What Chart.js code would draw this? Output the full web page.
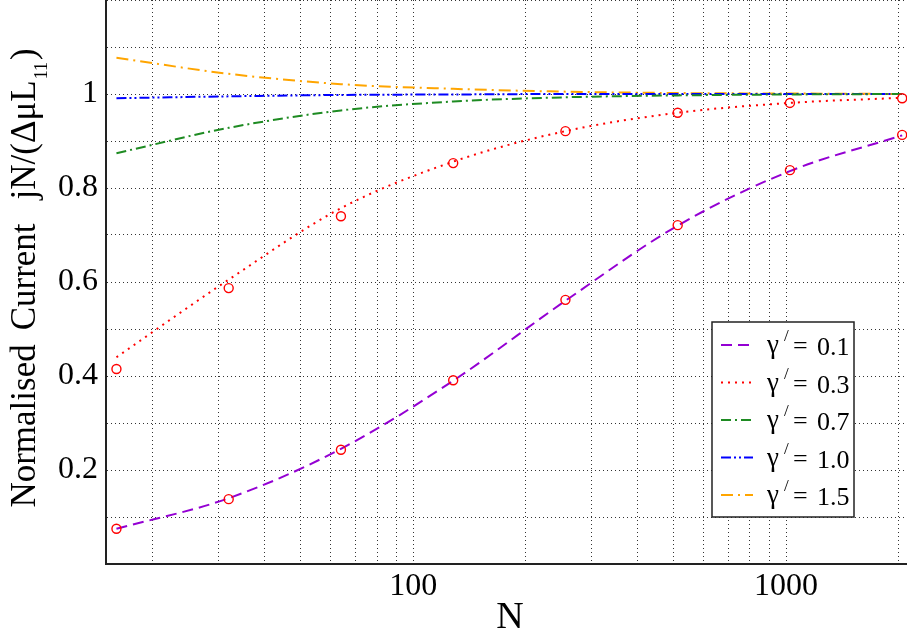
<!DOCTYPE html>
<html>
<head>
<meta charset="utf-8">
<script src="https://cdn.jsdelivr.net/npm/chart.js@4.4.0/dist/chart.umd.min.js"></script>
<style>
  html, body { margin: 0; padding: 0; background: #fff; }
  #wrap { width: 907px; height: 636px; position: relative; }
</style>
</head>
<body>
<div id="wrap"><canvas id="chart"></canvas></div>
<script>
// chain length N (log x axis)
const nValues = [16, 32, 64, 128, 256, 512, 1024, 2048];

// curves, one per gamma'
const gammaLabels = ['0.1', '0.3', '0.7', '1.0', '1.5'];
const curve01 = [0.075, 0.140, 0.245, 0.390, 0.560, 0.720, 0.836, 0.912];
const curve03 = [0.440, 0.605, 0.757, 0.856, 0.921, 0.960, 0.981, 0.992];
const curve07 = [0.874, 0.928, 0.965, 0.984, 0.993, 0.997, 0.999, 1.000];
const curve10 = [0.991, 0.995, 0.998, 0.999, 1.000, 1.000, 1.000, 1.000];
const curve15 = [1.077, 1.043, 1.021, 1.011, 1.005, 1.002, 1.001, 1.000];

// simulation points (open red circles)
const sim01 = [0.075, 0.138, 0.243, 0.391, 0.562, 0.721, 0.838, 0.913];
const sim03 = [0.415, 0.587, 0.740, 0.853, 0.921, 0.960, 0.981, 0.991];

// ticks
const xGridValues = [20, 30, 40, 50, 60, 70, 80, 90, 100, 200, 300, 400, 500, 600, 700, 800, 900, 1000, 2000];
const xTickLabels = [100, 1000];
const yTickLabels = [0.2, 0.4, 0.6, 0.8, 1];

const SERIF = "'Liberation Serif', 'DejaVu Serif', serif";

function pts(arr) {
    return nValues.map((n, i) => ({ x: n, y: arr[i] }));
}

function curve(values, color, dash) {
    return {
        data: pts(values),
        borderColor: color,
        borderWidth: 2,
        borderDash: dash,
        pointRadius: 0,
        cubicInterpolationMode: 'monotone',
        fill: false,
        order: 1
    };
}

function markers(values) {
    return {
        data: pts(values),
        showLine: false,
        pointRadius: 4.5,
        pointBorderWidth: 1.4,
        pointBorderColor: '#ff0000',
        pointBackgroundColor: 'rgba(0,0,0,0)',
        order: 0
    };
}

const lineSets = [
    curve(curve01, '#9400d3', [11, 6]),
    curve(curve03, '#ff0000', [2, 5]),
    curve(curve07, '#1e8b22', [10, 4, 2, 4]),
    curve(curve10, '#0000ff', [10, 3, 2, 3, 2, 3]),
    curve(curve15, '#ffa500', [12, 5, 2, 5])
];

// y title, x title and the boxed legend
const decorations = {
    id: 'decorations',
    afterDraw(chart) {
        const ctx = chart.ctx;
        ctx.save();
        ctx.fillStyle = '#000';
        ctx.textBaseline = 'alphabetic';

        // x title
        ctx.font = '38px ' + SERIF;
        ctx.textAlign = 'center';
        ctx.fillText('N', 510, 628);

        // y title, rotated
        ctx.textAlign = 'left';
        const big = '35px ' + SERIF, small = '18px ' + SERIF;
        const parts = [
            { t: 'Normalised', f: big, gap: 14, dy: 0 },
            { t: 'Current', f: big, gap: 24, dy: 0 },
            { t: 'jN/(\u0394\u03bcL', f: big, gap: 1, dy: 0 },
            { t: '11', f: small, gap: 2, dy: 12 },
            { t: ')', f: big, gap: 0, dy: 0 }
        ];
        let total = 0;
        parts.forEach(p => { ctx.font = p.f; p.w = ctx.measureText(p.t).width; total += p.w + p.gap; });
        ctx.translate(35, 278);
        ctx.rotate(-Math.PI / 2);
        let x = -total / 2;
        parts.forEach(p => { ctx.font = p.f; ctx.fillText(p.t, x, p.dy); x += p.w + p.gap; });
        ctx.restore();

        // legend
        ctx.save();
        const box = { left: 712, top: 322, right: 854, bottom: 517 };
        ctx.fillStyle = '#fff';
        ctx.fillRect(box.left, box.top, box.right - box.left, box.bottom - box.top);
        ctx.lineWidth = 1.5;
        ctx.strokeStyle = '#222';
        ctx.strokeRect(box.left, box.top, box.right - box.left, box.bottom - box.top);
        lineSets.forEach((ds, i) => {
            const y = 345 + i * 37.5;
            ctx.beginPath();
            ctx.setLineDash(ds.borderDash);
            ctx.strokeStyle = ds.borderColor;
            ctx.lineWidth = 2;
            ctx.moveTo(721, y);
            ctx.lineTo(753, y);
            ctx.stroke();
            ctx.setLineDash([]);
            ctx.fillStyle = '#000';
            ctx.textAlign = 'left';
            ctx.font = '27px ' + SERIF;
            ctx.fillText('\u03b3', 767, y + 8);
            ctx.font = '17px ' + SERIF;
            ctx.fillText('/', 784, y - 4);
            ctx.font = '26px ' + SERIF;
            ctx.fillText('=', 793, y + 9);
            ctx.fillText(gammaLabels[i], 817, y + 10);
        });
        ctx.restore();
    }
};

new Chart(document.getElementById('chart'), {
    type: 'line',
    data: {
        datasets: [markers(sim01), markers(sim03)].concat(lineSets)
    },
    options: {
        responsive: true,
        maintainAspectRatio: false,
        animation: false,
        layout: { padding: 0, autoPadding: false },
        plugins: { legend: { display: false }, tooltip: { enabled: false } },
        scales: {
            x: {
                type: 'logarithmic',
                min: 15,
                max: 2110,
                afterBuildTicks(scale) {
                    scale.ticks = xGridValues.map(v => ({ value: v }));
                },
                afterFit(scale) {
                    scale.height = 72;
                    scale.paddingLeft = 0;
                    scale.paddingRight = 0;
                },
                ticks: {
                    autoSkip: false,
                    maxRotation: 0,
                    padding: 3,
                    color: '#000',
                    font: { family: SERIF, size: 32 },
                    callback: v => xTickLabels.includes(v) ? String(v) : ''
                },
                grid: { color: '#333', lineWidth: 1, drawTicks: false },
                border: { display: true, color: '#222', width: 2, dash: [1, 3] }
            },
            y: {
                min: 0,
                max: 1.2,
                afterFit(scale) {
                    scale.width = 106;
                    scale.paddingTop = 0;
                    scale.paddingBottom = 0;
                },
                ticks: {
                    stepSize: 0.1,
                    padding: 8,
                    color: '#000',
                    font: { family: SERIF, size: 32 },
                    callback: v => {
                        const r = Math.round(v * 10) / 10;
                        return yTickLabels.includes(r) ? String(r) : '';
                    }
                },
                grid: { color: '#333', lineWidth: 1, drawTicks: false },
                border: { display: true, color: '#222', width: 2, dash: [1, 3] }
            }
        }
    },
    plugins: [decorations]
});
</script>
</body>
</html>
